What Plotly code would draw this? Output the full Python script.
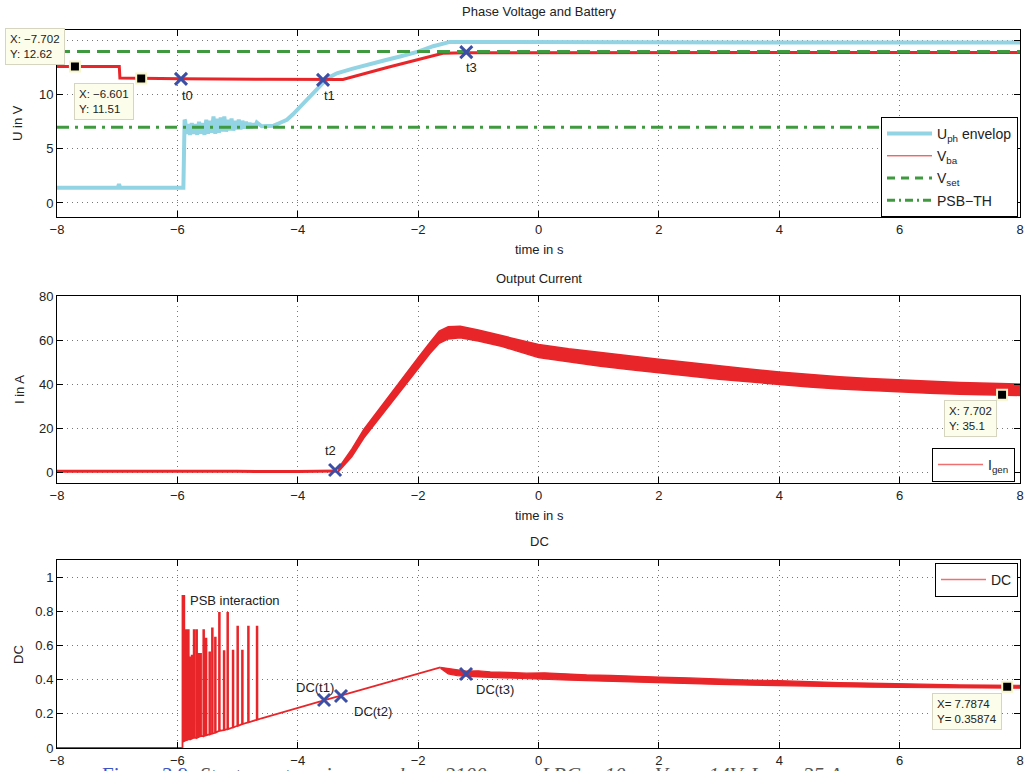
import plotly.graph_objects as go

W, H = 1030, 771
FONT = "Liberation Sans"

# ---------------- data: top panel ----------------
vba_t = [-8, -6.965, -6.955, -6.601, -5.94, -4.5, -3.58, -3.25, -2.5, -1.9, -1.59, -1.2, 0, 4, 8]
vba_v = [12.62, 12.62, 11.56, 11.51, 11.48, 11.44, 11.40, 11.42, 12.55, 13.40, 13.85, 13.90, 13.92, 13.92, 13.92]

uph_t = [-8, -6.99, -6.97, -6.95, -5.90, -5.88, -5.87, -5.85, -5.82, -5.79, -5.76, -5.73, -5.70, -5.67,
         -5.64, -5.61, -5.58, -5.55, -5.52, -5.49, -5.46, -5.43, -5.40, -5.37, -5.34, -5.31, -5.28,
         -5.25, -5.22, -5.19, -5.16, -5.13, -5.10, -5.07, -5.04, -5.01, -4.98, -4.95, -4.92, -4.89,
         -4.86, -4.83, -4.80, -4.77, -4.74, -4.71, -4.68, -4.60, -4.50, -4.40, -4.30, -4.18, -4.08,
         -3.96, -3.85, -3.72, -3.58, -3.45, -3.35, -3.10, -2.85, -2.55, -2.30, -2.00, -1.75, -1.60,
         -1.47, -1.00, 0, 4, 8]
uph_v = [1.40, 1.40, 1.75, 1.40, 1.40, 7.70, 7.60, 6.40, 7.30, 6.30, 7.40, 6.40, 7.30, 6.30,
         7.50, 6.40, 7.40, 6.30, 7.70, 6.40, 7.60, 6.50, 8.00, 6.40, 7.80, 6.50, 7.90,
         6.60, 8.00, 6.60, 7.70, 6.70, 7.80, 6.70, 7.60, 6.80, 7.70, 6.80, 7.60, 6.90,
         7.50, 6.90, 7.40, 6.95, 7.35, 7.05, 7.45, 7.10, 7.10, 7.15, 7.40, 7.70, 8.20,
         8.90, 9.60, 10.40, 11.10, 11.70, 12.00, 12.40, 12.80, 13.20, 13.55, 14.00, 14.50, 14.75,
         14.90, 14.90, 14.88, 14.85, 14.85]

vset_level = 14.0
psb_level = 7.0
top_t_range = [-8, 8]

top_mark_t = [-5.94, -3.58, -1.20]
top_mark_v = [11.48, 11.39, 13.95]
top_mark_lbl = ["t0", "t1", "t3"]
top_lbl_t = [-5.84, -3.48, -1.12]
top_lbl_v = [9.9, 9.9, 12.5]

top_tip_t = [-7.702, -6.601]
top_tip_v = [12.62, 11.51]

# ---------------- data: middle panel ----------------
igen_flat_t = [-8, -7, -6, -5, -4, -3.35]
igen_flat_v = [0.3, 0.4, 0.3, 0.3, 0.2, 0.5]

igen_t = [-3.33, -3.1, -2.9, -2.6, -2.3, -2.0, -1.8, -1.65, -1.5, -1.3, -1.0, -0.6, -0.3, 0.0, 0.5, 1.0,
          1.5, 2.0, 2.5, 3.0, 3.5, 4.0, 4.5, 5.0, 5.5, 6.0, 6.5, 7.0, 7.5, 8.0]
igen_up = [1.5, 10.5, 19.5, 30.5, 41.5, 52.0, 59.0, 64.0, 66.0, 66.2, 64.5, 62.0, 60.0, 58.0, 56.0, 54.3,
           52.7, 51.2, 49.8, 48.2, 46.8, 45.5, 44.3, 43.3, 42.5, 41.8, 41.2, 40.7, 40.3, 40.0]
igen_lo = [0.0, 7.0, 15.5, 26.5, 37.0, 47.0, 54.0, 58.5, 60.5, 61.0, 59.5, 57.0, 54.5, 52.0, 50.0, 48.2,
           46.6, 45.0, 43.6, 42.2, 40.9, 39.7, 38.6, 37.7, 37.0, 36.4, 35.8, 35.3, 35.0, 34.8]

mid_mark_t = [-3.38]
mid_mark_v = [0.9]
mid_tip_t = [7.702]
mid_tip_v = [35.1]

# ---------------- data: bottom panel ----------------
spike_t = [-5.915, -5.857, -5.823, -5.795, -5.762, -5.729, -5.685, -5.645, -5.619, -5.569, -5.529,
           -5.469, -5.425, -5.375, -5.308, -5.230, -5.170, -5.081, -5.004, -4.926, -4.826, -4.682]
spike_top = [0.89, 0.69, 0.69, 0.53, 0.54, 0.69, 0.69, 0.55, 0.55, 0.69, 0.64,
             0.56, 0.70, 0.645, 0.79, 0.567, 0.79, 0.57, 0.71, 0.57, 0.71, 0.71]
spike_base = [0.040, 0.045, 0.050, 0.050, 0.055, 0.060, 0.060, 0.065, 0.070, 0.070, 0.075,
              0.080, 0.085, 0.090, 0.100, 0.105, 0.110, 0.120, 0.130, 0.140, 0.150, 0.165]
spike_w = [0.03] + [0.012] * 21

dc_pre_t = [-8, -5.935]
dc_pre_v = [0.0, 0.0]
dc_ramp_t = [-4.60, -3.58, -3.28, -2.5, -1.63]
dc_ramp_v = [0.174, 0.277, 0.307, 0.386, 0.472]

dc_t = [-1.63, -1.5, -1.35, -1.2, -1.0, -0.8, -0.5, -0.2, 0.1, 0.4, 0.8, 1.2, 1.6, 2.0, 2.5, 3.0,
        3.5, 4.0, 4.5, 5.0, 5.5, 6.0, 6.5, 7.0, 7.5, 8.0]
dc_up = [0.472, 0.466, 0.456, 0.450, 0.452, 0.445, 0.443, 0.438, 0.440, 0.434, 0.428, 0.425, 0.419,
         0.415, 0.410, 0.403, 0.398, 0.394, 0.387, 0.383, 0.380, 0.375, 0.373, 0.369, 0.368, 0.367]
dc_lo = [0.466, 0.434, 0.424, 0.420, 0.416, 0.413, 0.407, 0.404, 0.401, 0.398, 0.394, 0.390, 0.386,
         0.382, 0.378, 0.372, 0.368, 0.365, 0.362, 0.358, 0.356, 0.354, 0.352, 0.351, 0.350, 0.350]

dc_mark_t = [-3.563, -3.281, -1.204]
dc_mark_v = [0.281, 0.304, 0.433]
dc_mark_lbl = ["DC(t1)", "DC(t2)", "DC(t3)"]
dc_lbl_t = [-3.72, -2.75, -0.72]
dc_lbl_v = [0.355, 0.215, 0.34]
dc_tip_t = [7.7874]
dc_tip_v = [0.35874]

x_ticks = [-8, -6, -4, -2, 0, 2, 4, 6, 8]

# ---------------- colours ----------------
RED = "#e8262a"
CYAN = "#92d4e4"
GREEN = "#3f9a3f"
BLUE = "#3c4fa6"

fig = go.Figure()

def py2paper(py):
    return 1 - py / H

def px2paper(px):
    return px / W

xmark = dict(symbol="x-thin-open", size=12, color=BLUE, line=dict(color=BLUE, width=3))
tipmark = dict(symbol="square", size=10, color="black", line=dict(color="#f7f5c8", width=2))

# ---- top traces ----
fig.add_trace(go.Scatter(x=uph_t, y=uph_v, mode="lines", line=dict(color=CYAN, width=4),
                         showlegend=False, xaxis="x", yaxis="y"))
fig.add_trace(go.Scatter(x=vba_t, y=vba_v, mode="lines", line=dict(color=RED, width=3),
                         showlegend=False, xaxis="x", yaxis="y"))
fig.add_trace(go.Scatter(x=top_t_range, y=[vset_level, vset_level], mode="lines",
                         line=dict(color=GREEN, width=3, dash="13px,7px"),
                         showlegend=False, xaxis="x", yaxis="y"))
fig.add_trace(go.Scatter(x=top_t_range, y=[psb_level, psb_level], mode="lines",
                         line=dict(color=GREEN, width=3, dash="12px,6px,3px,6px"),
                         showlegend=False, xaxis="x", yaxis="y"))
fig.add_trace(go.Scatter(x=top_mark_t, y=top_mark_v, mode="markers", marker=xmark,
                         showlegend=False, xaxis="x", yaxis="y"))
fig.add_trace(go.Scatter(x=top_tip_t, y=top_tip_v, mode="markers", marker=tipmark,
                         showlegend=False, xaxis="x", yaxis="y"))
# legend entries (top)
leg_items = [("U<sub>ph</sub> envelop", dict(color=CYAN, width=4)),
             ("V<sub>ba</sub>", dict(color=RED, width=1)),
             ("V<sub>set</sub>", dict(color=GREEN, width=3, dash="8px,6px")),
             ("PSB−TH", dict(color=GREEN, width=3, dash="8px,4px,2px,4px"))]
for i, (nm, ln) in enumerate(leg_items):
    fig.add_trace(go.Scatter(x=[None], y=[None], mode="lines", name=nm, line=ln,
                             legendgroup="g%d" % i, xaxis="x", yaxis="y", legend="legend"))

# ---- middle traces ----
fig.add_trace(go.Scatter(x=igen_flat_t, y=igen_flat_v, mode="lines", line=dict(color=RED, width=3),
                         showlegend=False, xaxis="x2", yaxis="y2"))
fig.add_trace(go.Scatter(x=igen_t + igen_t[::-1], y=igen_up + igen_lo[::-1], mode="lines",
                         fill="toself", fillcolor=RED, line=dict(color=RED, width=1.5),
                         showlegend=False, xaxis="x2", yaxis="y2"))
fig.add_trace(go.Scatter(x=mid_mark_t, y=mid_mark_v, mode="markers", marker=xmark,
                         showlegend=False, xaxis="x2", yaxis="y2"))
fig.add_trace(go.Scatter(x=mid_tip_t, y=mid_tip_v, mode="markers", marker=tipmark,
                         showlegend=False, xaxis="x2", yaxis="y2"))
fig.add_trace(go.Scatter(x=[None], y=[None], mode="lines", name="I<sub>gen</sub>",
                         line=dict(color="#f07070", width=1.5), xaxis="x2", yaxis="y2", legend="legend2"))

# ---- bottom traces ----
dc_x = list(dc_pre_t)
dc_y = list(dc_pre_v)
for t, top, base, w in zip(spike_t, spike_top, spike_base, spike_w):
    dc_x += [t, t, t + w, t + w]
    dc_y += [0.0 if t == spike_t[0] else base, top, top, base]
dc_x += dc_ramp_t
dc_y += dc_ramp_v
fig.add_trace(go.Scatter(x=dc_x, y=dc_y, mode="lines", line=dict(color=RED, width=1.8),
                         showlegend=False, xaxis="x3", yaxis="y3"))
fig.add_trace(go.Scatter(x=dc_t + dc_t[::-1], y=dc_up + dc_lo[::-1], mode="lines",
                         fill="toself", fillcolor=RED, line=dict(color=RED, width=1.2),
                         showlegend=False, xaxis="x3", yaxis="y3"))
fig.add_trace(go.Scatter(x=dc_mark_t, y=dc_mark_v, mode="markers", marker=xmark,
                         showlegend=False, xaxis="x3", yaxis="y3"))
fig.add_trace(go.Scatter(x=dc_tip_t, y=dc_tip_v, mode="markers", marker=tipmark,
                         showlegend=False, xaxis="x3", yaxis="y3"))
fig.add_trace(go.Scatter(x=[None], y=[None], mode="lines", name="DC",
                         line=dict(color="#f07070", width=1.5), xaxis="x3", yaxis="y3", legend="legend3"))

# ---------------- axes ----------------
xdom = [px2paper(57), px2paper(1020)]
axis_common = dict(showline=True, linecolor="black", linewidth=1, mirror="ticks", ticks="inside",
                   ticklen=6, tickcolor="black", tickwidth=1, showgrid=True, gridcolor="#777",
                   griddash="1px,4px", gridwidth=1, zeroline=False, automargin=False,
                   tickfont=dict(family=FONT, size=13, color="#222"))

layout_axes = {}
panels = [
    ("", [py2paper(217), py2paper(30)], [-1.3, 16], [0, 5, 10, 15]),
    ("2", [py2paper(483), py2paper(296)], [-5, 80], [0, 20, 40, 60, 80]),
    ("3", [py2paper(748), py2paper(560)], [0, 1.1], [0, 0.2, 0.4, 0.6, 0.8, 1]),
]
for suf, ydom, yr, yt in panels:
    layout_axes["xaxis" + suf] = dict(axis_common, domain=xdom, range=[-8, 8], tickvals=x_ticks,
                                      anchor="y" + suf)
    layout_axes["yaxis" + suf] = dict(axis_common, domain=ydom, range=yr, tickvals=yt,
                                      anchor="x" + suf)

fig.update_layout(**layout_axes)

# ---------------- annotations ----------------
ann = []
txtfont = dict(family=FONT, size=13, color="#222")

def add_text(text, px, py, size=13, angle=0, xanchor="center", color="#222"):
    ann.append(dict(text=text, x=px2paper(px), y=py2paper(py), xref="paper", yref="paper",
                    showarrow=False, xanchor=xanchor, yanchor="middle", textangle=angle,
                    font=dict(family=FONT, size=size, color=color)))

add_text("Phase Voltage and Battery", 539, 12)
add_text("Output Current", 539, 278)
add_text("DC", 539, 541)
add_text("time in s", 539, 250)
add_text("time in s", 539, 515)
add_text("U in V", 18, 123, angle=-90)
add_text("I in A", 19, 390, angle=-90)
add_text("DC", 18, 655, angle=-90)

for lbl, t, v in zip(top_mark_lbl, top_lbl_t, top_lbl_v):
    ann.append(dict(text=lbl, x=t, y=v, xref="x", yref="y", showarrow=False, font=txtfont))
ann.append(dict(text="t2", x=-3.45, y=10, xref="x2", yref="y2", showarrow=False, font=txtfont))
for lbl, t, v in zip(dc_mark_lbl, dc_lbl_t, dc_lbl_v):
    ann.append(dict(text=lbl, x=t, y=v, xref="x3", yref="y3", showarrow=False, font=txtfont))
ann.append(dict(text="PSB interaction", x=-5.82, y=0.865, xref="x3", yref="y3", showarrow=False,
                xanchor="left", font=txtfont))

def add_tip(text, px, py):
    ann.append(dict(text=text, x=px2paper(px), y=py2paper(py), xref="paper", yref="paper",
                    showarrow=False, xanchor="left", yanchor="top", align="left",
                    bgcolor="#fdfdeb", bordercolor="#d6d6c0", borderwidth=1, borderpad=4,
                    font=dict(family=FONT, size=11.5, color="#222")))

add_tip("X: −7.702<br>Y: 12.62", 5, 28)
add_tip("X: −6.601<br>Y: 11.51", 74, 83)
add_tip("X: 7.702<br>Y: 35.1", 944, 400)
add_tip("X= 7.7874<br>Y= 0.35874", 932, 693)

# partially visible caption at the very bottom
ann.append(dict(text="<span style='color:#3b55c4'>Figure 3.9:</span> <i>Start-up at engine speed n = 2100 rpm,  LBC = 10 s,  V<sub>set</sub> = 14V, I<sub>gen</sub> = 35 A</i>",
                x=px2paper(100), y=py2paper(761), xref="paper", yref="paper", showarrow=False,
                xanchor="left", yanchor="top", font=dict(family="Liberation Serif", size=21, color="#555")))

legend_common = dict(bgcolor="white", bordercolor="black", borderwidth=1,
                     font=dict(family=FONT, size=14, color="#222"), tracegroupgap=1,
                     itemwidth=45)

fig.update_layout(
    width=W, height=H, margin=dict(l=0, r=0, t=0, b=0, autoexpand=False),
    paper_bgcolor="white", plot_bgcolor="white",
    annotations=ann,
    showlegend=True,
    legend=dict(legend_common, x=px2paper(1018), y=py2paper(117), xanchor="right", yanchor="top"),
    legend2=dict(legend_common, x=px2paper(1015), y=py2paper(448), xanchor="right", yanchor="top"),
    legend3=dict(legend_common, x=px2paper(1018), y=py2paper(563), xanchor="right", yanchor="top"),
)

fig.write_html("out.html", config={"displayModeBar": False},
               post_script="document.body.style.margin='0';document.body.style.padding='0';"
                           "document.body.style.overflow='hidden';")
